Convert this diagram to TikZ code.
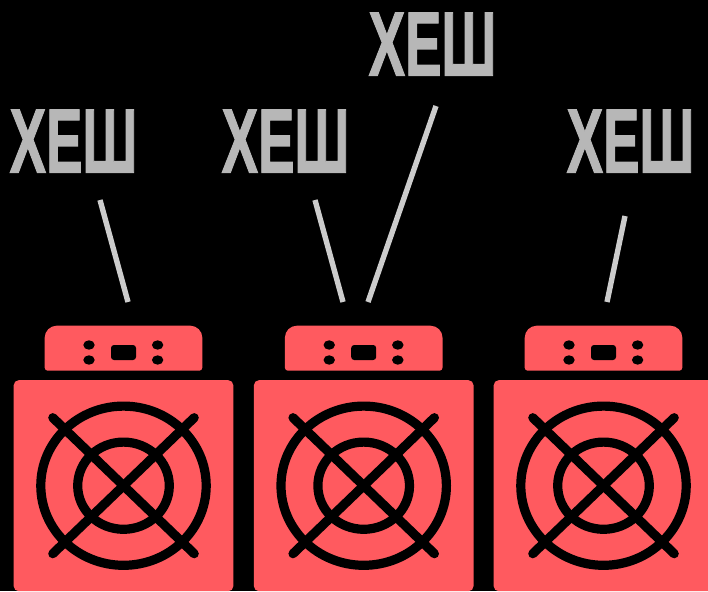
\documentclass[tikz,border=0pt]{standalone}
\usepackage{fontspec}
\usepackage{tikz}
\newfontfamily\hashfont[UprightFont=* Bold, FakeBold=1.5]{Liberation Sans}
\definecolor{minerred}{HTML}{FF5A5F}
\definecolor{hashgrey}{HTML}{B7B7B7}
\definecolor{wiregrey}{HTML}{CCCCCC}
\tikzset{
    hashlabel/.style={anchor=base, inner sep=0pt, text=hashgrey, font=\fontsize{91}{91}\hashfont},
    wire/.style={draw=wiregrey, line width=5.4pt},
    casebox/.style={fill=minerred, rounded corners=5pt, minimum width=219.6pt, minimum height=211pt, inner sep=0pt},
    grille/.style={draw=black, line width=9.2pt, line cap=round}
}
\newcommand{\hashtext}{\scalebox{0.6}[1]{ХЕШ}}

\begin{document}
\begin{tikzpicture}[x=1pt, y=-1pt]
        \useasboundingbox (0,0) rectangle (708,591);
        \fill[black] (0,0) rectangle (708,591);
        \clip (0,0) rectangle (708,591);

        \foreach \n/\dx in {1/0, 2/240.2, 3/480} {
            \begin{scope}[xshift=\dx pt]
                \fill[minerred] (44.7,340) [rounded corners=12pt] -- (44.7,325.7) -- (202.3,325.7) [sharp corners] -- (202.3,340) [rounded corners=3pt] -- (202.3,370.7) -- (44.7,370.7) [sharp corners] -- cycle;
                \fill[black, rounded corners=3pt] (111,345) rectangle (136,360);
                \foreach \ox in {89, 157.6} \foreach \oy in {345, 360}
                    \fill[black] (\ox,\oy) ellipse [x radius=5.7pt, y radius=4.7pt];
                \node[casebox] (case\n) at (123.5,485.7) {};
                \draw[grille] (case\n.center) ellipse [x radius=82.7pt, y radius=79.6pt];
                \draw[grille] (case\n.center) ellipse [x radius=45.8pt, y radius=43.6pt];
                \draw[grille] (52.8,417.7) -- (194.2,553.7);
                \draw[grille] (52.8,553.7) -- (194.2,417.7);
            \end{scope}
        }

        \node[hashlabel] (hash1) at (73.5,172.5) {\hashtext};
        \node[hashlabel] (hash2) at (285.5,172.5) {\hashtext};
        \node[hashlabel] (hash3) at (432.5,75.5) {\hashtext};
        \node[hashlabel] (hash4) at (630.5,172.5) {\hashtext};

        \coordinate (top1) at (100,200);
        \coordinate (end1) at (128,302);
        \coordinate (top2) at (315,200);
        \coordinate (end2) at (343,302);
        \coordinate (top3) at (436,106);
        \coordinate (end3) at (368,302);
        \coordinate (top4) at (625,216);
        \coordinate (end4) at (607,302);

        \foreach \n in {1,...,4}
            \draw[wire] (top\n) -- (end\n);
    \end{tikzpicture}
\end{document}
